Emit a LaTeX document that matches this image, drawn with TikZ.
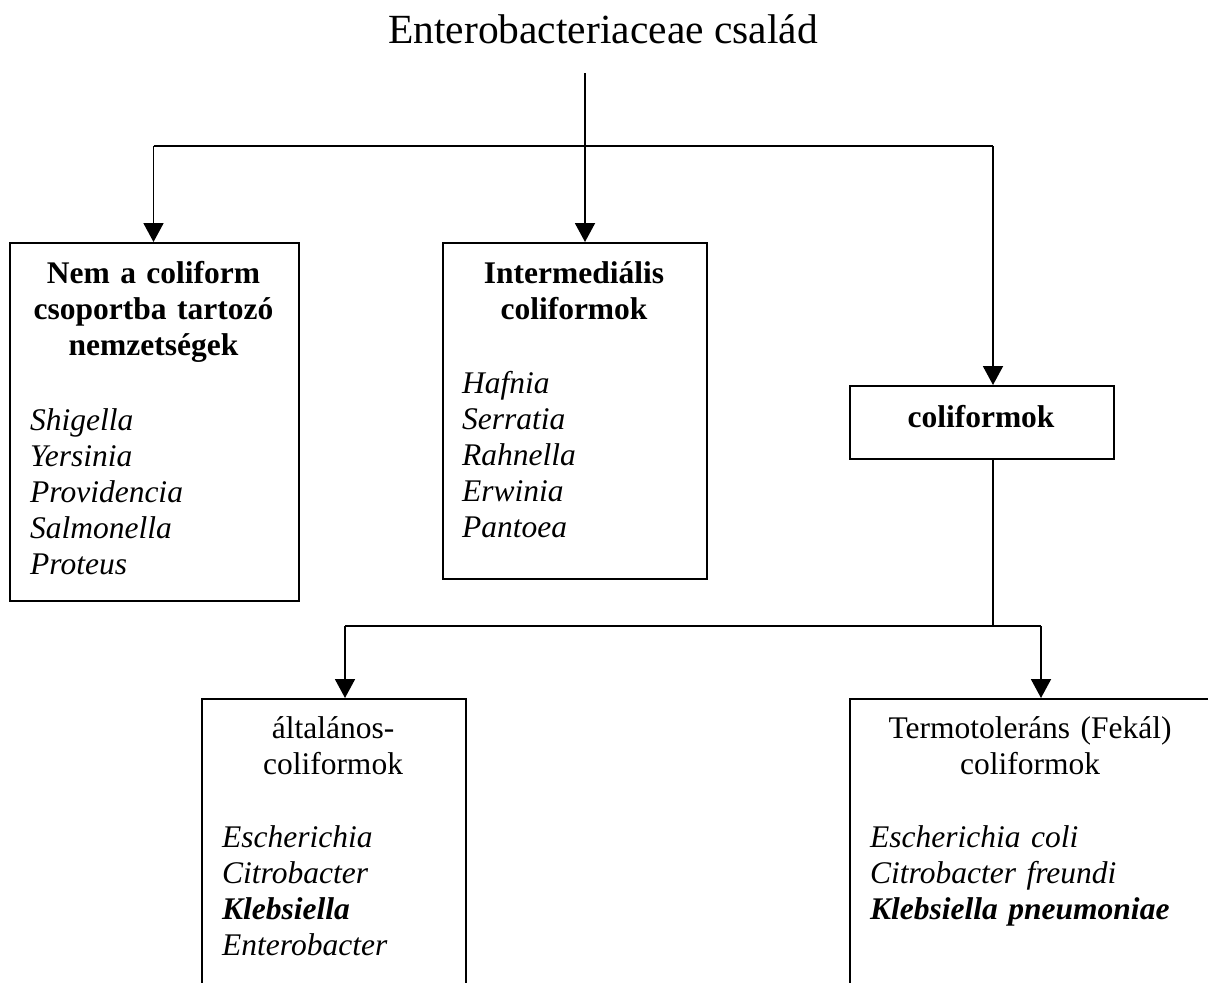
\documentclass[tikz,border=0pt]{standalone}
\usepackage{fontspec}
\setmainfont{Liberation Serif}
\usetikzlibrary{arrows.meta}

\tikzset{
  box/.style={draw, line width=1.9pt, inner sep=0pt, anchor=north west},
  link/.style={line width=1.9pt},
  arr/.style={link, -{Triangle[width=20pt,length=19pt]}},
  body/.style={font={\fontsize{31.5}{36}\selectfont}, inner sep=0pt},
  head/.style={body, font={\fontsize{31.5}{36}\selectfont\bfseries}, text width=300pt, align=center, anchor=base},
  plainhead/.style={body, text width=360pt, align=center, anchor=base},
  list/.style={body, font={\fontsize{31.5}{36}\selectfont\itshape}, text width=360pt, align=left, anchor=base west},
}

\begin{document}
\begin{tikzpicture}[x=1pt, y=-1pt]
\useasboundingbox (0,0) rectangle (1208,983);
\clip (0,0) rectangle (1208,983);

% title
\node[inner sep=0pt, anchor=base, font={\fontsize{41.5}{48}\selectfont}] (title) at (603,43) {Enterobacteriaceae család};

% boxes
\node[box, minimum width=289pt, minimum height=358pt] (nem) at (9,242) {};
\node[box, minimum width=264pt, minimum height=336pt] (inter) at (442,242) {};
\node[box, minimum width=264pt, minimum height=73pt] (coli) at (849,385) {};
\node[box, minimum width=264pt, minimum height=320pt] (alt) at (201,698) {};
\node[box, minimum width=364pt, minimum height=320pt] (termo) at (849,698) {};

% box texts
\node[head] (nemhead) at (153.5,283) {Nem a coliform\\csoportba tartozó\\nemzetségek};
\node[list] (nemlist) at (30,430) {Shigella\\Yersinia\\Providencia\\Salmonella\\Proteus};

\node[head] (interhead) at (574,283) {Intermediális\\coliformok};
\node[list] (interlist) at (462,393) {Hafnia\\Serratia\\Rahnella\\Erwinia\\Pantoea};

\node[head] (colihead) at (981,427) {coliformok};

\node[plainhead] (althead) at (333,738) {általános-\\coliformok};
\node[list] (altlist) at (222,847) {Escherichia\\Citrobacter\\\textbf{Klebsiella}\\Enterobacter};

\node[plainhead] (termohead) at (1030,738) {Termotoleráns (Fekál)\\coliformok};
\node[list] (termolist) at (870,847) {Escherichia coli\\Citrobacter freundi\\\textbf{Klebsiella pneumoniae}};

% connectors, upper level
\coordinate (stem) at (585,73);
\coordinate (split) at (585,146);
\coordinate (hookL) at (153.5,146);
\coordinate (hookR) at (993,146);
\draw[link] (stem) -- (split);
\draw[link] (hookL) -- (hookR);
\draw[arr] (split) -- (split |- inter.north);
\draw[arr] (hookL) -- (hookL |- nem.north);
\draw[arr] (hookR) -- (hookR |- coli.north);

% connectors, lower level
\coordinate (split2) at (993,626);
\coordinate (hookL2) at (345,626);
\coordinate (hookR2) at (1041,626);
\draw[link] (hookR |- coli.south) -- (split2);
\draw[link] (hookL2) -- (hookR2);
\draw[arr] (hookL2) -- (hookL2 |- alt.north);
\draw[arr] (hookR2) -- (hookR2 |- termo.north);
\end{tikzpicture}
\end{document}
